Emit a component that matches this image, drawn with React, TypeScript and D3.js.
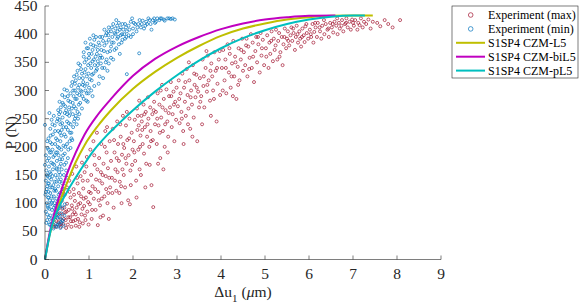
import React from "react";
import * as d3 from "d3";

const xTicks = [0, 1, 2, 3, 4, 5, 6, 7, 8, 9];
const yTicks = [0, 50, 100, 150, 200, 250, 300, 350, 400, 450];

const legendLabels = [
  "Experiment (max)",
  "Experiment (min)",
  "S1SP4 CZM-L5",
  "S1SP4 CZM-biL5",
  "S1SP4 CZM-pL5",
];

// Experiment (max) scatter: [Δu1 (µm), P (N)]
const expMax: [number, number][] = [
  [0.18,62],[0.22,75],[0.25,58],[0.28,88],[0.3,66],[0.32,95],[0.35,72],[0.36,58],[0.38,104],[0.4,80],[0.42,63],[0.44,92],[0.45,115],[0.47,70],[0.48,56],[0.5,99],[0.5,128],[0.26,68],[0.33,82],[0.41,120],[0.46,84],[0.29,100],[0.37,64],
  [0.52,62],[0.54,88],[0.55,140],[0.57,75],[0.58,110],[0.6,58],[0.61,96],[0.62,152],[0.64,68],[0.65,125],[0.67,84],[0.68,104],[0.7,60],[0.71,165],[0.72,92],[0.74,135],[0.75,72],[0.77,118],[0.78,58],[0.8,100],[0.81,148],[0.83,80],[0.84,172],[0.86,64],[0.87,126],[0.89,95],[0.9,155],[0.92,70],[0.93,110],[0.95,182],[0.96,85],[0.97,140],[0.99,62],[1.0,120],[0.56,120],[0.63,80],[0.73,145],[0.79,66],[0.88,108],[0.94,165],[0.69,70],[0.85,90],
  [1.02,98],[1.03,195],[1.05,150],[1.06,72],[1.08,130],[1.1,210],[1.11,108],[1.13,168],[1.15,88],[1.16,142],[1.18,225],[1.2,61],[1.21,120],[1.23,180],[1.25,96],[1.27,155],[1.28,205],[1.3,135],[1.32,78],[1.33,170],[1.35,112],[1.37,228],[1.38,148],[1.4,190],[1.42,100],[1.43,162],[1.45,72],[1.47,210],[1.48,128],[1.5,175],[1.12,185],[1.24,140],[1.36,200],[1.44,118],[1.19,160],[1.29,108],[1.41,235],
  [1.52,145],[1.54,232],[1.56,92],[1.58,190],[1.6,160],[1.62,122],[1.64,245],[1.66,205],[1.68,175],[1.7,138],[1.72,218],[1.74,100],[1.75,186],[1.77,255],[1.79,150],[1.8,198],[1.82,128],[1.84,238],[1.85,170],[1.87,212],[1.89,105],[1.9,185],[1.92,250],[1.94,158],[1.95,132],[1.97,225],[1.99,195],[1.57,212],[1.63,180],[1.71,240],[1.76,160],[1.86,262],[1.93,98],[1.69,118],
  [2.02,210],[2.04,248],[2.05,175],[2.07,140],[2.09,268],[2.1,230],[2.12,195],[2.14,282],[2.15,160],[2.17,220],[2.19,255],[2.2,245],[2.22,205],[2.24,275],[2.25,188],[2.27,235],[2.29,262],[2.3,170],[2.32,218],[2.34,288],[2.35,250],[2.37,200],[2.39,270],[2.4,228],[2.42,132],[2.44,258],[2.45,212],[2.46,93],[2.48,280],[2.5,240],[2.08,110],[2.18,150],[2.28,128],[2.38,168],[2.13,238],
  [2.52,262],[2.54,205],[2.56,295],[2.58,238],[2.6,275],[2.62,180],[2.64,252],[2.66,310],[2.68,228],[2.7,285],[2.72,200],[2.74,265],[2.76,302],[2.78,245],[2.8,218],[2.82,290],[2.84,270],[2.86,315],[2.88,235],[2.9,258],[2.92,298],[2.94,210],[2.96,280],[2.98,248],[2.57,170],[2.69,160],[2.79,190],[2.63,300],
  [3.02,272],[3.04,318],[3.06,242],[3.08,295],[3.1,262],[3.12,330],[3.14,228],[3.16,305],[3.18,280],[3.2,255],[3.22,338],[3.24,292],[3.26,268],[3.28,318],[3.3,232],[3.32,300],[3.34,275],[3.36,345],[3.38,252],[3.4,310],[3.42,288],[3.44,328],[3.46,210],[3.48,298],[3.5,270],[3.15,205],[3.35,218],[3.27,350],
  [3.52,322],[3.55,290],[3.58,355],[3.6,308],[3.62,270],[3.65,340],[3.68,298],[3.7,362],[3.72,318],[3.75,282],[3.78,348],[3.8,325],[3.82,300],[3.85,368],[3.88,335],[3.9,245],[3.92,312],[3.95,355],[3.98,292],[3.57,240],[3.77,255],[3.67,370],
  [4.02,340],[4.05,372],[4.08,318],[4.1,355],[4.12,295],[4.15,382],[4.18,332],[4.2,365],[4.22,305],[4.25,348],[4.28,388],[4.3,325],[4.32,360],[4.35,285],[4.38,342],[4.4,375],[4.42,318],[4.45,355],[4.48,392],[4.5,335],[4.27,290],
  [4.52,368],[4.55,345],[4.58,392],[4.6,325],[4.62,378],[4.65,358],[4.68,400],[4.7,340],[4.72,385],[4.75,315],[4.78,370],[4.8,395],[4.82,350],[4.85,382],[4.88,332],[4.9,402],[4.92,362],[4.95,390],[4.98,345],
  [5.02,375],[5.05,398],[5.08,340],[5.1,385],[5.12,365],[5.15,405],[5.18,352],[5.2,392],[5.22,372],[5.25,408],[5.28,355],[5.3,388],[5.32,402],[5.35,368],[5.38,395],[5.4,345],[5.42,382],[5.45,410],[5.48,375],[5.5,392],
  [5.52,405],[5.55,380],[5.58,398],[5.6,412],[5.62,388],[5.65,402],[5.68,372],[5.7,395],[5.72,415],[5.75,385],[5.78,405],[5.8,392],[5.82,378],[5.85,410],[5.88,398],[5.9,386],[5.92,414],[5.95,402],[5.98,392],
  [6.02,408],[6.05,395],[6.08,418],[6.1,385],[6.12,404],[6.15,412],[6.18,395],[6.2,420],[6.25,405],[6.28,392],[6.3,415],[6.35,400],[6.38,418],[6.42,408],[6.45,395],[6.48,420],
  [6.52,412],[6.55,403],[6.58,422],[6.62,415],[6.65,400],[6.68,420],[6.7,410],[6.75,425],[6.78,405],[6.82,418],[6.85,428],[6.88,412],[6.92,422],[6.95,408],[6.98,426],
  [7.02,415],[7.05,425],[7.1,408],[7.12,420],[7.18,428],[7.22,412],[7.25,422],[7.3,418],[7.35,426],[7.4,410],[7.45,422],[7.55,420],[7.62,414],[7.72,425],[7.8,418],[7.9,412],[8.07,425],
  [0.2,58],[0.27,80],[0.34,62],[0.39,90],[0.43,72],[0.49,85],[0.53,75],[0.59,68],[0.62,90],[0.66,115],[0.7,80],[0.76,98],[0.82,112],[0.86,140],[0.91,78],[0.98,102],[1.04,118],[1.07,88],[1.14,125],[1.22,105],[1.26,75],[1.31,150],[1.39,125],[1.46,145],[1.53,118],[1.59,140],[1.65,155],[1.73,130],[1.78,205],[1.83,180],[1.91,215],[1.98,168],
  [2.03,190],[2.11,255],[2.16,200],[2.21,230],[2.26,258],[2.33,240],[2.41,210],[2.47,265],[2.55,250],[2.61,225],[2.67,270],[2.73,240],[2.81,260],[2.87,290],[2.93,275],[2.99,305],[3.05,285],[3.11,250],[3.19,315],[3.25,240],[3.31,288],[3.39,330],[3.45,305],[3.53,280],[3.61,325],[3.69,310],[3.76,335],[3.84,285],[3.91,340],[3.97,370],
  [4.04,300],[4.11,340],[4.19,375],[4.24,325],[4.33,350],[4.39,310],[4.46,372],[4.57,380],[4.64,338],[4.73,360],[4.84,395],[4.93,375],[5.03,360],[5.14,388],[5.24,380],[5.33,360],[5.44,395],[5.53,388],[5.64,410],[5.74,400],[5.84,395],[5.94,418],[6.04,400],[6.14,420],[6.24,412],[6.34,425],[6.44,410],[6.54,418],[6.64,428],[6.74,415],[6.84,420],[7.0,420],[7.15,416],
];

// Experiment (min) scatter
const expMin: [number, number][] = [
  [0.02,85],[0.04,100],[0.05,70],[0.07,92],[0.08,110],[0.1,62],[0.12,78],[0.13,98],[0.15,58],[0.16,88],[0.18,105],[0.2,66],[0.21,80],[0.23,95],[0.25,60],[0.26,108],[0.28,74],[0.3,90],[0.32,64],[0.33,100],[0.35,56],[0.37,82],[0.39,70],[0.42,60],[0.44,78],[0.03,65],[0.09,75],[0.14,68],[0.19,55],[0.24,85],[0.29,62],[0.34,75],[0.11,105],[0.22,100],[0.27,58],[0.06,95],[0.17,72],[0.31,80],[0.36,66],[0.4,92],
  [0.01,115],[0.02,140],[0.03,158],[0.04,125],[0.06,148],[0.08,120],[0.09,135],[0.11,155],[0.12,118],[0.14,142],[0.16,128],[0.18,160],[0.2,112],[0.22,138],[0.24,150],[0.25,122],[0.28,145],[0.3,130],[0.32,155],[0.34,118],[0.36,142],[0.38,160],[0.4,126],[0.43,150],[0.46,135],[0.48,158],[0.05,130],[0.1,145],[0.15,112],[0.19,132],[0.23,125],[0.27,160],[0.33,138],[0.41,114],[0.07,110],[0.13,152],
  [0.0,168],[0.02,185],[0.05,175],[0.06,198],[0.09,165],[0.11,190],[0.12,208],[0.14,172],[0.17,195],[0.19,182],[0.21,168],[0.23,205],[0.25,190],[0.27,175],[0.29,200],[0.31,185],[0.33,165],[0.35,210],[0.37,195],[0.39,178],[0.42,202],[0.45,188],[0.48,172],[0.5,205],[0.53,195],[0.56,210],[0.08,195],[0.16,205],[0.26,162],[0.34,178],[0.44,168],
  [0.0,239],[0.08,215],[0.12,232],[0.15,248],[0.18,222],[0.2,255],[0.22,238],[0.25,215],[0.27,245],[0.3,228],[0.32,258],[0.35,240],[0.37,220],[0.4,252],[0.42,235],[0.45,260],[0.47,218],[0.5,245],[0.52,230],[0.55,255],[0.58,240],[0.6,225],[0.63,258],[0.66,245],[0.7,255],[0.75,250],[0.28,212],[0.38,230],[0.48,235],[0.62,212],[0.1,260],[0.33,248],
  [0.3,265],[0.33,280],[0.36,270],[0.39,292],[0.42,275],[0.45,288],[0.48,265],[0.5,300],[0.53,282],[0.55,270],[0.58,295],[0.6,308],[0.63,278],[0.65,290],[0.68,300],[0.7,268],[0.72,285],[0.75,305],[0.78,292],[0.8,278],[0.83,298],[0.86,310],[0.88,285],[0.92,300],[0.95,295],[1.0,305],[1.05,300],[0.56,262],[0.66,272],[0.74,262],[0.44,302],[0.84,268],[0.97,280],[1.12,308],
  [0.62,315],[0.66,325],[0.7,318],[0.74,335],[0.78,322],[0.8,345],[0.84,330],[0.87,315],[0.9,350],[0.92,338],[0.95,325],[0.98,345],[1.0,358],[1.02,320],[1.05,340],[1.08,352],[1.1,330],[1.13,345],[1.15,360],[1.18,338],[1.2,352],[1.24,325],[1.27,348],[1.3,358],[1.35,340],[1.4,355],[1.45,348],[1.5,358],[0.76,348],[0.88,360],[0.96,312],[1.06,318],[1.22,312],[1.32,322],[1.86,329],
  [0.88,368],[0.95,375],[1.0,365],[1.04,382],[1.08,372],[1.12,390],[1.15,378],[1.18,365],[1.22,385],[1.25,395],[1.28,372],[1.32,388],[1.35,380],[1.38,398],[1.42,368],[1.45,390],[1.5,378],[1.53,395],[1.56,385],[1.6,400],[1.64,392],[1.68,382],[1.72,398],[1.76,390],[1.8,400],[1.85,395],[1.9,398],[2.0,400],[1.1,398],[1.26,362],[1.48,370],[1.62,375],[2.14,366],[0.92,385],[1.7,365],
  [1.35,408],[1.4,402],[1.45,412],[1.5,405],[1.55,418],[1.6,410],[1.65,405],[1.68,420],[1.72,412],[1.78,408],[1.82,418],[1.86,405],[1.9,415],[1.95,422],[2.0,410],[2.05,418],[2.1,412],[2.15,425],[2.2,418],[2.25,410],[2.3,422],[2.35,428],[2.4,418],[2.45,425],[2.5,420],[2.55,428],[2.6,425],[2.65,428],[2.7,426],[2.78,428],[2.86,427],[2.95,426],[1.62,425],[1.98,428],[2.28,415],[2.42,408],[1.75,400],[2.08,405],
  [0.05,80],[0.1,90],[0.15,100],[0.2,92],[0.25,75],[0.3,105],[0.35,95],[0.4,68],[0.45,98],[0.12,62],[0.28,95],[0.38,110],[0.02,120],[0.07,135],[0.12,128],[0.17,148],[0.21,122],[0.26,138],[0.31,115],[0.35,150],[0.39,135],[0.44,125],[0.5,145],
  [0.04,150],[0.09,180],[0.14,190],[0.18,170],[0.22,185],[0.28,190],[0.32,198],[0.36,170],[0.41,185],[0.46,200],[0.52,180],[0.58,198],[0.6,215],[0.05,210],[0.13,220],[0.17,240],[0.23,228],[0.29,250],[0.34,225],[0.39,242],[0.44,222],[0.5,258],[0.54,242],[0.57,225],[0.64,235],[0.68,250],[0.72,240],[0.78,258],
  [0.35,262],[0.4,278],[0.46,272],[0.52,290],[0.57,280],[0.61,268],[0.64,300],[0.69,285],[0.73,295],[0.77,275],[0.81,300],[0.85,290],[0.9,308],[0.94,282],[0.99,295],[1.08,290],[0.68,312],[0.72,328],[0.78,310],[0.82,338],[0.86,322],[0.9,332],[0.94,355],[0.99,330],[1.03,348],[1.07,328],[1.11,355],[1.16,335],[1.2,345],[1.25,358],[1.3,340],[1.38,350],[1.42,335],[1.55,355],
  [0.98,375],[1.02,392],[1.06,365],[1.1,380],[1.16,395],[1.2,372],[1.24,380],[1.3,395],[1.34,370],[1.4,385],[1.44,398],[1.52,385],[1.58,372],[1.66,395],[1.74,385],[1.82,392],[1.95,395],[1.44,405],[1.52,412],[1.58,402],[1.64,415],[1.7,408],[1.76,418],[1.84,412],[1.92,408],[2.02,420],[2.12,418],[2.18,412],[2.22,424],[2.32,418],[2.38,425],[2.48,428],[2.52,422],[2.62,428],[2.72,424],[2.82,428],[2.9,428],
];

const curveL5: [number, number][] = [
  [0,0],[0.1,42],[0.2,70],[0.35,105],[0.5,136],[0.7,173],[0.9,203],[1.2,237],[1.5,265],[2,303],[2.5,333],[3,358],[3.5,379],[4,397],[4.5,410],[5,419],[5.5,426],[6,430],[6.5,432.5],[7,433],[7.45,433],
];
const curveBiL5: [number, number][] = [
  [0,0],[0.1,45],[0.2,78],[0.35,118],[0.5,152],[0.7,190],[0.9,222],[1.2,257],[1.5,285],[2,326],[2.5,356],[3,378],[3.5,395],[4,409],[4.5,419],[5,426],[5.5,430],[6,432.5],[6.6,433],
];
const curvePL5: [number, number][] = [
  [0,0],[0.15,58],[0.3,90],[0.5,120],[0.8,158],[1.1,193],[1.4,220],[1.7,243],[2,265],[2.5,298],[3,327],[3.5,353],[4,375],[4.5,393],[5,407],[5.5,418],[6,426],[6.5,431],[7,433],[7.27,433],
];

const colMax = "#A2142F";
const colMin = "#0072BD";
const colL5 = "#BFBF00";
const colBi = "#C000C0";
const colP = "#00BFBF";

const W = 581;
const H = 304;
const font = '"Liberation Serif", "Times New Roman", Times, serif';

export default function App() {
  const x = d3.scaleLinear().domain([0, 9]).range([45, 441]);
  const y = d3.scaleLinear().domain([0, 450]).range([259.5, 6]);
  const line = d3
    .line<[number, number]>()
    .x((d) => x(d[0]))
    .y((d) => y(d[1]))
    .curve(d3.curveMonotoneX);

  const axisColor = "#262626";
  const curves = [
    { data: curveL5, color: colL5 },
    { data: curveBiL5, color: colBi },
    { data: curvePL5, color: colP },
  ];
  const lx = 452, ly = 6, lw = 126, lh = 72;
  const rowY = (i: number) => 15 + i * 13.9;
  const ts = { fontFamily: font };

  return (
    <svg
      width={W}
      height={H}
      style={{ position: "absolute", left: 0, top: 0, background: "#fff", fontFamily: font }}
    >
      <rect x={0} y={0} width={W} height={H} fill="#fff" />
      <g fill="none" strokeWidth={0.7}>
        {expMax.map((d, i) => (
          <circle key={"a" + i} cx={x(d[0])} cy={y(d[1])} r={1.5} stroke={colMax} />
        ))}
        {expMin.map((d, i) => (
          <circle key={"b" + i} cx={x(d[0])} cy={y(d[1])} r={1.5} stroke={colMin} />
        ))}
      </g>
      {curves.map((c, i) => (
        <path key={i} d={line(c.data) || ""} fill="none" stroke={c.color} strokeWidth={2} />
      ))}
      <g stroke={axisColor} strokeWidth={0.6}>
        <line x1={x(0)} x2={x(9)} y1={y(0)} y2={y(0)} />
        <line x1={x(0)} x2={x(0)} y1={y(0)} y2={y(450)} />
        {xTicks.map((t) => (
          <line key={t} x1={x(t)} x2={x(t)} y1={y(0)} y2={y(0) - 4} />
        ))}
        {yTicks.map((t) => (
          <line key={t} x1={x(0)} x2={x(0) + 4} y1={y(t)} y2={y(t)} />
        ))}
      </g>
      <g fontSize={15.5} fill="#262626" style={ts}>
        {xTicks.map((t) => (
          <text key={t} x={x(t)} y={278.5} textAnchor="middle" style={ts}>{t}</text>
        ))}
        {yTicks.map((t) => (
          <text key={t} x={37.5} y={y(t) + 5} textAnchor="end" style={ts}>{t}</text>
        ))}
        <text x={243} y={296.5} textAnchor="middle" style={ts}>
          Δu<tspan fontSize={11} dy={5.5}>1</tspan>
          <tspan dy={-5.5}> (</tspan>
          <tspan fontStyle="italic">μ</tspan>m)
        </text>
        <text transform={`translate(15.5,${(y(0) + y(450)) / 2}) rotate(-90)`} textAnchor="middle" style={ts}>
          P (N)
        </text>
      </g>
      <rect x={lx} y={ly} width={lw} height={lh} fill="#fff" stroke="#262626" strokeWidth={0.6} />
      <g fontSize={12} fill="#000" style={ts}>
        {legendLabels.map((lab, i) => (
          <text key={i} x={488} y={rowY(i) + 4} style={ts}>{lab}</text>
        ))}
      </g>
      <circle cx={470.7} cy={rowY(0)} r={2.3} fill="none" stroke={colMax} strokeWidth={0.7} />
      <circle cx={470.7} cy={rowY(1)} r={2.3} fill="none" stroke={colMin} strokeWidth={0.7} />
      {[colL5, colBi, colP].map((c, i) => (
        <line key={i} x1={456} x2={485} y1={rowY(i + 2)} y2={rowY(i + 2)} stroke={c} strokeWidth={2} />
      ))}
    </svg>
  );
}
